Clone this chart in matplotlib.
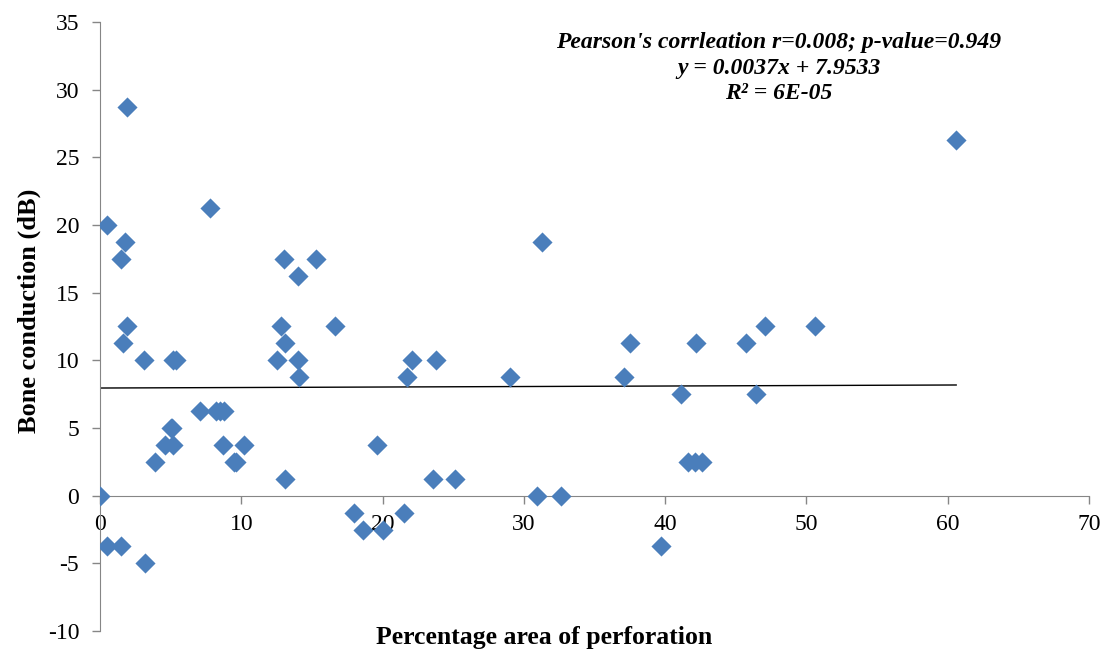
import matplotlib.pyplot as plt

# Percentage area of perforation vs bone conduction (dB)
perforation = [0.0, 0.5, 0.5, 1.5, 1.5, 1.6, 1.9, 1.8, 1.9, 3.1, 3.2, 3.9, 4.6,
               5.0, 5.1, 5.2, 5.2, 5.4, 7.1, 7.8, 8.2, 8.5, 8.8, 8.7, 9.5, 9.6,
               10.2, 12.5, 12.8, 13.0, 13.1, 13.1, 14.0, 14.0, 14.1, 15.3, 16.6,
               18.0, 18.6, 19.6, 20.0, 21.5, 21.7, 22.1, 23.6, 23.8, 25.1, 29.0,
               30.9, 31.3, 32.6, 37.1, 37.5, 39.7, 41.1, 41.6, 42.1, 42.6, 42.2,
               45.7, 46.4, 47.1, 50.6, 60.6]
bone_cond = [0, -3.75, 20, -3.75, 17.5, 11.25, 28.75, 18.75, 12.5, 10, -5, 2.5, 3.75,
             5, 5, 3.75, 10, 10, 6.25, 21.25, 6.25, 6.25, 6.25, 3.75, 2.5, 2.5,
             3.75, 10, 12.5, 17.5, 11.25, 1.25, 16.25, 10, 8.75, 17.5, 12.5,
             -1.25, -2.5, 3.75, -2.5, -1.25, 8.75, 10, 1.25, 10, 1.25, 8.75,
             0, 18.75, 0, 8.75, 11.25, -3.75, 7.5, 2.5, 2.5, 2.5, 11.25,
             11.25, 7.5, 12.5, 12.5, 26.25]

slope, intercept = 0.0037, 7.9533
trend_x = [min(perforation), max(perforation)]
trend_y = [slope * v + intercept for v in trend_x]

plt.rcParams['font.family'] = 'Liberation Serif'
plt.rcParams['axes.unicode_minus'] = False

fig = plt.figure(figsize=(11.04, 6.52), dpi=100)
ax = fig.add_axes([0.0906, 0.0322, 0.8958, 0.9341])

ax.plot(trend_x, trend_y, color='black', linewidth=1.0, zorder=2)
ax.scatter(perforation, bone_cond, marker='D', s=105, color='#4A7EBB', linewidths=0, zorder=3)

ax.set_xlim(0, 70)
ax.set_ylim(-10, 35)
ax.set_xticks(range(0, 71, 10))
ax.set_yticks(range(-10, 36, 5))

grey = '#868686'
ax.spines['top'].set_visible(False)
ax.spines['right'].set_visible(False)
ax.spines['left'].set_color(grey)
ax.spines['bottom'].set_color(grey)
ax.spines['bottom'].set_position(('data', 0))
ax.tick_params(axis='both', colors=grey, labelcolor='black', labelsize=17, length=6, width=1)
ax.tick_params(axis='x', pad=7)
ax.tick_params(axis='y', pad=9)

ax.set_xlabel('Percentage area of perforation', fontsize=18.5, fontweight='bold', va='center')
ax.xaxis.set_label_coords(0.4495, -0.010)
ax.set_ylabel('Bone conduction (dB)', fontsize=19, fontweight='bold', va='center')
ax.yaxis.set_label_coords(-0.072, 0.525)

ax.text(0.6866, 0.984, "Pearson's corrleation r=0.008; p-value=0.949\ny = 0.0037x + 7.9533\nR² = 6E-05",
        transform=ax.transAxes, ha='center', va='top', fontsize=17,
        fontweight='bold', fontstyle='italic', linespacing=1.3)

fig.savefig('out.png', dpi=100)
